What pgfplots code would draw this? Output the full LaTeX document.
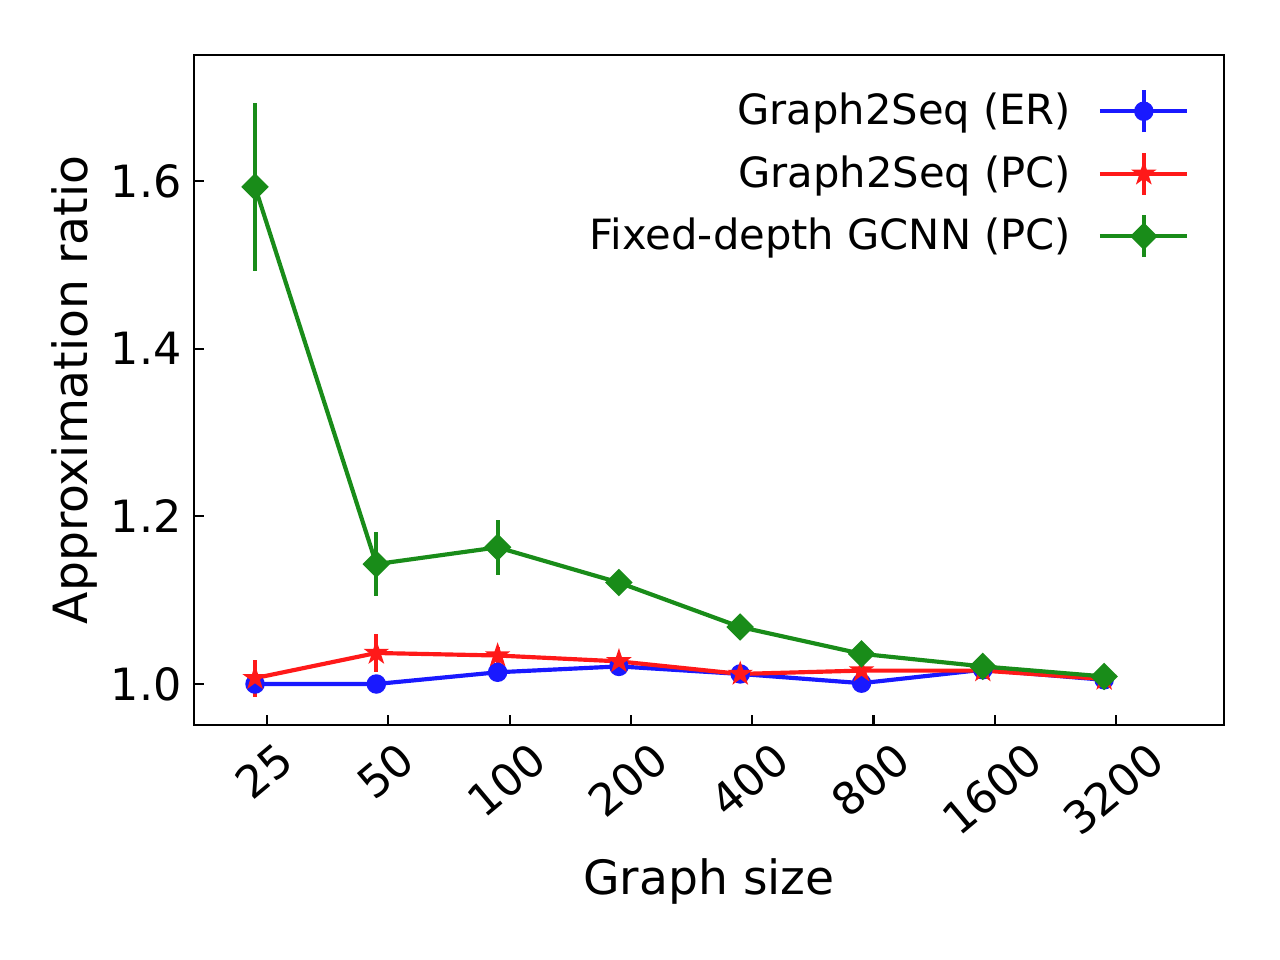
\documentclass[border=0pt]{standalone}
\usepackage{pgfplots}
\usepackage{pgfplotstable}
\pgfplotsset{compat=1.18}
\usepackage{fontspec}
\setmainfont{DejaVu Sans}
\definecolor{cb}{rgb}{0.1,0.1,1}
\definecolor{cr}{rgb}{1,0.1,0.1}
\definecolor{cg}{rgb}{0.1,0.55,0.1}

\pgfdeclareplotmark{fstar}{%
  \pgfpathmoveto{\pgfpointpolar{90}{\pgfplotmarksize}}%
  \pgfpathlineto{\pgfpointpolar{126}{0.382\pgfplotmarksize}}%
  \pgfpathlineto{\pgfpointpolar{162}{\pgfplotmarksize}}%
  \pgfpathlineto{\pgfpointpolar{198}{0.382\pgfplotmarksize}}%
  \pgfpathlineto{\pgfpointpolar{234}{\pgfplotmarksize}}%
  \pgfpathlineto{\pgfpointpolar{270}{0.382\pgfplotmarksize}}%
  \pgfpathlineto{\pgfpointpolar{306}{\pgfplotmarksize}}%
  \pgfpathlineto{\pgfpointpolar{342}{0.382\pgfplotmarksize}}%
  \pgfpathlineto{\pgfpointpolar{18}{\pgfplotmarksize}}%
  \pgfpathlineto{\pgfpointpolar{54}{0.382\pgfplotmarksize}}%
  \pgfpathclose
  \pgfusepathqfillstroke}

\pgfplotsset{errleg/.style={legend image code/.code={%
    \draw[##1, mark=none] (0pt,0pt) -- (31.3pt,0pt);
    \draw[##1, mark=none] (15.8pt,-7.5pt) -- (15.8pt,7.5pt);
    \draw[##1] plot coordinates {(15.8pt,0pt)};}}}

\newcommand\rl[1]{\setbox0=\hbox{#1}\dimen0=\wd0\relax\raisebox{-0.246\dimen0}[\ht0][0pt]{\copy0}\hspace*{-0.293\dimen0}}
\newcommand\fs{\fontsize{16}{19.2}\selectfont}
\newcommand\fl{\fontsize{17}{20.4}\selectfont}
\newcommand\fg{\fontsize{15}{18}\selectfont}

\pgfplotstableread{
x y e
0 1.000 0.003
1 1.000 0.003
2 1.014 0.004
3 1.021 0.003
4 1.012 0.003
5 1.001 0.003
6 1.017 0.003
7 1.005 0.003
}\ertab
\pgfplotstableread{
x y e
0 1.007 0.022
1 1.037 0.023
2 1.034 0.010
3 1.027 0.005
4 1.012 0.004
5 1.016 0.004
6 1.016 0.004
7 1.006 0.004
}\pctab
\pgfplotstableread{
x y e
0 1.593 0.100
1 1.143 0.038
2 1.163 0.033
3 1.121 0.008
4 1.068 0.006
5 1.036 0.006
6 1.021 0.006
7 1.009 0.005
}\gctab

\begin{document}
\begin{tikzpicture}
\useasboundingbox (-69.84pt,-84.6pt) rectangle (390.96pt,261pt);
\begin{axis}[
  at={(0pt,0pt)}, anchor=south west,
  scale only axis, width=370.8pt, height=241.2pt,
  xmin=-0.503, xmax=7.988, ymin=0.9511, ymax=1.7503,
  axis line style={line width=0.8pt, black},
  tick style={line width=0.8pt, black},
  major tick length=3.5pt,
  tick align=inside,
  xtick pos=left, ytick pos=left,
  xtick={0.099,1.099,2.099,3.099,4.099,5.099,6.099,7.099},
  xticklabels={\rl{25},\rl{50},\rl{100},\rl{200},\rl{400},\rl{800},\rl{1600},\rl{3200}},
  ytick={1.0,1.2,1.4,1.6},
  yticklabels={1.0,1.2,1.4,1.6},
  tick label style={font=\fs},
  xticklabel style={xshift=-4.9pt, yshift=-5.0pt, rotate=40, anchor=north east, inner sep=0pt},
  yticklabel style={anchor=east, inner sep=0pt, xshift=-4.3pt},
  xlabel={Graph size},
  ylabel={Approximation ratio},
  label style={font=\fl},
  xlabel style={at={(axis description cs:0.5,-0.2537)}, anchor=base, inner sep=0pt},
  ylabel style={at={(axis description cs:-0.1038,0.5)}, anchor=base, inner sep=0pt},
  legend cell align=right,
  legend plot pos=right,
  legend style={draw=none, fill=none, at={(rel axis cs:1,1)}, anchor=north east,
    xshift=-12.6pt, yshift=-12pt, inner sep=0pt, outer sep=0pt, row sep=6pt,
    font=\fg, nodes={inner sep=0pt},
    /tikz/every odd column/.append style={column sep=9.6pt}},
  error bars/error bar style={line width=1.5pt, solid},
  error bars/error mark=none,
]
\addplot[cb, line width=1.5pt, mark=*, mark size=3pt,
  mark options={line width=1pt, fill=cb, draw=cb, solid}, errleg,
  error bars/.cd, y dir=both, y explicit]
  table[x=x, y=y, y error=e]{\ertab};
\addlegendentry{Graph2Seq (ER)}
\addplot[cr, line width=1.5pt, mark=fstar, mark size=3.2pt,
  mark options={line width=1pt, fill=cr, draw=cr, solid}, errleg,
  error bars/.cd, y dir=both, y explicit]
  table[x=x, y=y, y error=e]{\pctab};
\addlegendentry{Graph2Seq (PC)}
\addplot[cg, line width=1.5pt, mark=square*, mark size=3pt,
  mark options={line width=1pt, fill=cg, draw=cg, solid, rotate=45}, errleg,
  error bars/.cd, y dir=both, y explicit]
  table[x=x, y=y, y error=e]{\gctab};
\addlegendentry{Fixed-depth GCNN (PC)}
\end{axis}
\end{tikzpicture}
\end{document}
